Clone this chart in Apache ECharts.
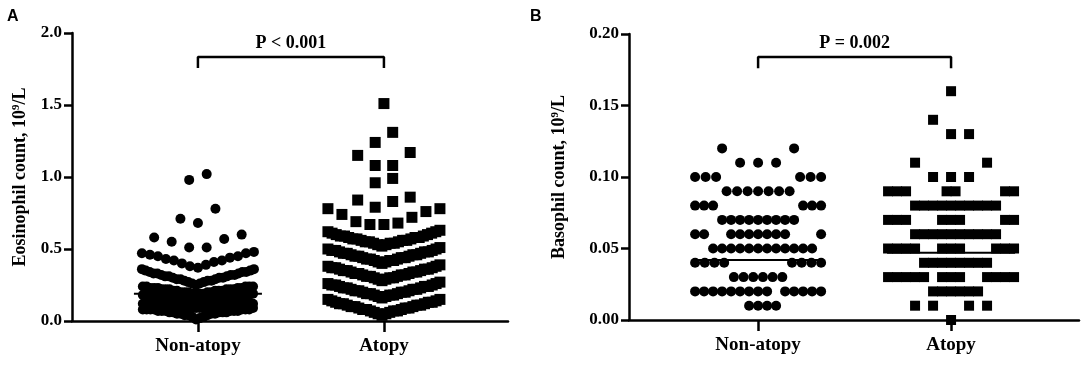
<!DOCTYPE html>
<html>
<head>
<meta charset="utf-8">
<script src="https://cdn.jsdelivr.net/npm/echarts@6/dist/echarts.min.js"></script>
<style>html,body{margin:0;padding:0;background:#fff}#c{width:1084px;height:366px}</style>
</head>
<body>
<div id="c"></div>
<script>
// ---------------- DATA ----------------
const categories = ['Non-atopy', 'Atopy'];

// Panel A: eosinophil count (10^9/L) as [value, number of subjects]
const eosNonAtopy = [
  [0.01,1],[0.02,1],[0.03,2],[0.04,3],[0.05,4],[0.06,5],[0.07,6],[0.08,7],[0.09,7],[0.10,8],[0.11,8],[0.12,8],
  [0.13,4],[0.14,5],[0.15,5],[0.16,5],[0.17,5],[0.18,5],[0.19,5],[0.20,5],[0.21,5],[0.22,6],[0.23,5],[0.24,5],
  [0.25,1],[0.26,2],[0.27,2],[0.28,3],[0.29,3],[0.30,3],[0.31,3],[0.32,3],[0.33,3],[0.34,3],[0.35,2],[0.36,2],
  [0.37,1],[0.38,1],[0.39,1],[0.40,1],[0.41,1],[0.42,2],[0.43,1],[0.44,1],[0.45,2],[0.46,1],[0.47,2],[0.48,1],
  [0.51,2],[0.55,1],[0.57,1],[0.58,1],[0.60,1],
  [0.68,1],[0.71,1],[0.78,1],
  [0.98,1],[1.02,1]
];
const eosAtopy = [
  [0.04,1],[0.05,2],[0.06,2],[0.07,3],[0.08,3],[0.09,3],[0.10,3],[0.11,3],[0.12,3],[0.13,3],[0.14,2],[0.15,2],
  [0.16,1],[0.17,2],[0.18,3],[0.19,3],[0.20,3],[0.21,3],[0.22,3],[0.23,3],[0.24,3],[0.25,3],[0.26,2],[0.27,1],
  [0.28,1],[0.29,2],[0.30,3],[0.31,3],[0.32,3],[0.33,3],[0.34,3],[0.35,3],[0.36,3],[0.37,3],[0.38,2],[0.39,1],
  [0.40,1],[0.41,2],[0.42,3],[0.43,3],[0.44,3],[0.45,3],[0.46,3],[0.47,3],[0.48,3],[0.49,3],[0.50,2],[0.51,1],
  [0.52,1],[0.53,2],[0.54,3],[0.55,3],[0.56,3],[0.57,3],[0.58,3],[0.59,3],[0.60,2],[0.61,2],[0.62,2],[0.63,1],
  [0.67,2],[0.68,1],[0.69,1],[0.72,1],[0.74,1],[0.76,1],[0.78,2],
  [0.79,1],[0.83,1],[0.84,1],[0.86,1],
  [0.96,1],[0.99,1],
  [1.08,2],[1.15,1],[1.17,1],
  [1.24,1],[1.31,1],
  [1.51,1]
];
const eosMedians = [0.19, null];
const eosTicks = [0, 0.5, 1.0, 1.5, 2.0];
const eosPText = 'P < 0.001';
const eosBracket = [1.833, 1.757];   // bar level, end of the drops

// Panel B: basophil count (10^9/L) as [value, number of subjects]
const basoNonAtopy = [
  [0.01,4],[0.02,14],[0.03,6],[0.04,8],[0.05,12],[0.06,10],[0.07,9],[0.08,6],[0.09,7],[0.10,6],[0.11,3],[0.12,2]
];
const basoAtopy = [
  [0.00,1],[0.01,4],[0.02,6],[0.03,12],[0.04,8],[0.05,10],[0.06,10],[0.07,8],[0.08,10],[0.09,7],[0.10,3],[0.11,2],
  [0.13,2],[0.14,1],[0.16,1]
];
const basoMedians = [0.042, 0.047];
const basoTicks = [0, 0.05, 0.10, 0.15, 0.20];
const basoPText = 'P = 0.002';
const basoBracket = [0.184, 0.176];

// ---------------- LAYOUT / STYLE ----------------
const SERIF = '"Liberation Serif","Times New Roman",serif';
const SANS = '"Liberation Sans",Arial,sans-serif';
// beeswarm parameters (pixels)
const swarmA = {binH: 0.12, width: 112, sMax: 17.5, sMin: 3.8, first: -1};
const swarmB = {binH: 0.02, width: 126, sMax: 18, sMin: 9, first: 1};

function expand(pairs) {
  const out = [];
  pairs.forEach(([v, n]) => { for (let i = 0; i < n; i++) out.push(v); });
  return out.sort((a, b) => a - b);
}

// Prism-like column scatter: values binned from the bottom, each bin spread
// outward from the centre in ascending order, wrapping when the column is full.
function swarm(values, cfg) {
  const pts = [];
  const cap = Math.floor(cfg.width / cfg.sMin) + 1;
  let i = 0;
  while (i < values.length) {
    const start = values[i];
    let j = i;
    while (j < values.length && values[j] < start + cfg.binH - 1e-6) j++;
    const bin = values.slice(i, j);
    const wrapped = bin.length > cap;
    for (let k = 0; k < bin.length; k += cap) {
      const sub = bin.slice(k, k + cap);
      const m = sub.length;
      const s = wrapped ? cfg.sMin : (m > 1 ? Math.min(cfg.sMax, Math.max(cfg.sMin, cfg.width / (m - 1))) : 0);
      sub.forEach((v, idx) => {
        let off;
        if (m % 2 === 1) {
          if (idx === 0) off = 0;
          else off = (idx % 2 === 1 ? cfg.first : -cfg.first) * Math.ceil(idx / 2) * s;
        } else {
          off = (idx % 2 === 0 ? cfg.first : -cfg.first) * (Math.floor(idx / 2) + 0.5) * s;
        }
        pts.push([off, v]);
      });
    }
    i = j;
  }
  return pts;
}

const axisBlack = {color: '#000', width: 2.5};

function xAxisFor(g, min, max) {
  return {
    gridIndex: g, type: 'value', min: min, max: max,
    axisLine: {show: true, onZero: false, lineStyle: axisBlack},
    axisTick: {show: true, customValues: [1, 2], length: 11, lineStyle: axisBlack},
    axisLabel: {show: true, customValues: [1, 2], margin: 16, color: '#000',
      fontFamily: SERIF, fontWeight: 'bold', fontSize: 19,
      formatter: v => categories[Math.round(v) - 1] || ''},
    splitLine: {show: false}
  };
}
function yAxisFor(g, ticks, digits, name, gap) {
  return {
    gridIndex: g, type: 'value', min: ticks[0], max: ticks[ticks.length - 1],
    interval: ticks[1] - ticks[0],
    axisLine: {show: true, onZero: false, lineStyle: axisBlack},
    axisTick: {show: true, length: 8, lineStyle: axisBlack},
    axisLabel: {margin: 10, color: '#000', fontFamily: SERIF, fontWeight: 'bold', fontSize: 17,
      formatter: v => v.toFixed(digits)},
    splitLine: {show: false},
    name: name, nameLocation: 'middle', nameGap: gap,
    nameTextStyle: {color: '#000', fontFamily: SERIF, fontWeight: 'bold', fontSize: 18,
      rich: {s: {fontFamily: SERIF, fontWeight: 'bold', fontSize: 11, verticalAlign: 'top', color: '#000', padding: [0, 0, 6, 0]}}}
  };
}

const chart = echarts.init(document.getElementById('c'), null, {renderer: 'canvas'});
chart.setOption({
  animation: false,
  backgroundColor: '#fff',
  grid: [
    {left: 72, top: 33, width: 436, height: 288},
    {left: 629, top: 34, width: 450, height: 286}
  ],
  xAxis: [xAxisFor(0, 0.323, 2.667), xAxisFor(1, 0.331, 2.663)],
  yAxis: [
    yAxisFor(0, eosTicks, 1, 'Eosinophil count, 10{s|9}/L', 43),
    yAxisFor(1, basoTicks, 2, 'Basophil count, 10{s|9}/L', 61)
  ],
  series: []
});

function buildPanel(g, groups, cfg, symbols, sizes, medians, bracket, ptext) {
  const x1 = chart.convertToPixel({xAxisIndex: g}, 1);
  const x2 = chart.convertToPixel({xAxisIndex: g}, 2);
  const ppu = x2 - x1;
  const series = [];
  groups.forEach((pairs, gi) => {
    const pts = swarm(expand(pairs), cfg).map(([off, v]) => [gi + 1 + off / ppu, v]);
    series.push({
      type: 'scatter', xAxisIndex: g, yAxisIndex: g, data: pts, clip: false,
      symbol: symbols[gi], symbolSize: sizes[gi], itemStyle: {color: '#000', opacity: 1},
      silent: true, z: 3
    });
    if (medians[gi] != null) {
      const hw = 64 / ppu;
      series.push({
        type: 'line', xAxisIndex: g, yAxisIndex: g, symbol: 'none', silent: true, z: 4,
        data: [[gi + 1 - hw, medians[gi]], [gi + 1 + hw, medians[gi]]],
        lineStyle: {color: '#000', width: 2}
      });
    }
  });
  series.push({
    type: 'line', xAxisIndex: g, yAxisIndex: g, symbol: 'none', silent: true,
    data: [[1, bracket[1]], [1, bracket[0]], [2, bracket[0]], [2, bracket[1]]],
    lineStyle: {color: '#000', width: 2.5}
  });
  const tp = chart.convertToPixel({gridIndex: g}, [1.5, bracket[0]]);
  const text = {type: 'text', x: tp[0], y: tp[1] - 14,
    style: {text: ptext, fill: '#000', font: 'bold 18px ' + SERIF, textAlign: 'center', textVerticalAlign: 'middle'}};
  return {series, text};
}

const pa = buildPanel(0, [eosNonAtopy, eosAtopy], swarmA, ['circle', 'rect'], [10, 11], eosMedians, eosBracket, eosPText);
const pb = buildPanel(1, [basoNonAtopy, basoAtopy], swarmB, ['circle', 'rect'], [10, 10], basoMedians, basoBracket, basoPText);

chart.setOption({
  series: pa.series.concat(pb.series),
  graphic: [
    pa.text, pb.text,
    {type: 'text', x: 7, y: 9, style: {text: 'A', fill: '#000', font: 'bold 16px ' + SANS}},
    {type: 'text', x: 530, y: 9, style: {text: 'B', fill: '#000', font: 'bold 16px ' + SANS}}
  ]
});
</script>
</body>
</html>
